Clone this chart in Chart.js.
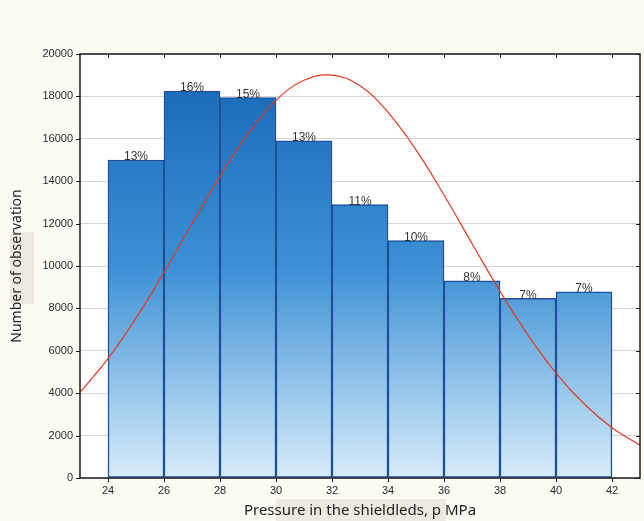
<!DOCTYPE html>
<html>
<head>
<meta charset="utf-8">
<script src="https://cdn.jsdelivr.net/npm/chart.js@4.4.1/dist/chart.umd.min.js"></script>
<style>
  html, body { margin: 0; padding: 0; background: #fcfbf3; }
  #wrap { width: 644px; height: 521px; position: relative; }
</style>
</head>
<body>
<div id="wrap"><canvas id="hist"></canvas></div>
<script>
// histogram bins (centre of each 2 MPa class) and counts
const binCenters = [25, 27, 29, 31, 33, 35, 37, 39, 41];
const binCounts = [15000, 18250, 17950, 15900, 12900, 11200, 9300, 8480, 8780];
const binPercent = ["13%", "16%", "15%", "13%", "11%", "10%", "8%", "7%", "7%"];

// fitted normal curve
const curveX = [23, 24, 25, 26, 27, 28, 29, 30, 31, 32, 33, 34, 35, 36, 37, 38, 39, 40, 41, 42, 43];
const curveY = [4040, 5630, 7540, 9700, 11990, 14230, 16240, 17810, 18760, 19000, 18500, 17250, 15480, 13350, 11060, 8810, 6740, 4950, 3500, 2370, 1550];

const xTicks = [24, 26, 28, 30, 32, 34, 36, 38, 40, 42];
const yTicks = [0, 2000, 4000, 6000, 8000, 10000, 12000, 14000, 16000, 18000, 20000];

const canvas = document.getElementById("hist");

// light blue gradient that runs over the whole plot height
function barFill(context) {
    const area = context.chart.chartArea;
    if (!area) return "#4a94d6";
    const g = context.chart.ctx.createLinearGradient(0, area.top, 0, area.bottom);
    g.addColorStop(0, "#1465b6");
    g.addColorStop(0.5, "#3b90d5");
    g.addColorStop(1, "#d8ecfa");
    return g;
}

const frame = {
    id: "frame",
    beforeDraw(chart) {
        const c = chart.ctx;
        c.save();
        c.fillStyle = "#fcfbf3";
        c.fillRect(0, 0, chart.width, chart.height);
        // faint scan boxes behind the titles
        c.fillStyle = "#eceae0";
        c.fillRect(10, 232, 24, 72);
        c.fillRect(276, 499, 170, 22);
        const a = chart.chartArea;
        c.fillStyle = "#ffffff";
        c.fillRect(a.left, a.top, a.right - a.left, a.bottom - a.top);
        c.restore();
    },
    afterDraw(chart) {
        const c = chart.ctx;
        const a = chart.chartArea;
        const xs = chart.scales.x;
        const ys = chart.scales.y;
        c.save();
        c.strokeStyle = "#1b1b1b";
        c.lineWidth = 1.5;
        c.strokeRect(a.left, a.top, a.right - a.left, a.bottom - a.top);
        c.lineWidth = 1;
        xTicks.forEach(v => {
            const px = Math.round(xs.getPixelForValue(v)) + 0.5;
            c.beginPath();
            c.moveTo(px, a.top); c.lineTo(px, a.top + 4);
            c.moveTo(px, a.bottom); c.lineTo(px, a.bottom + 4);
            c.stroke();
        });
        yTicks.forEach(v => {
            const py = Math.round(ys.getPixelForValue(v)) + 0.5;
            c.beginPath();
            c.moveTo(a.right - 4, py); c.lineTo(a.right, py);
            c.moveTo(a.left - 4, py); c.lineTo(a.left, py);
            c.stroke();
        });
        c.restore();
    },
    afterDatasetsDraw(chart) {
        const c = chart.ctx;
        const meta = chart.getDatasetMeta(1);
        c.save();
        c.fillStyle = "#333333";
        c.font = "12px 'Liberation Sans', Arial, sans-serif";
        c.textAlign = "center";
        c.textBaseline = "bottom";
        meta.data.forEach((bar, i) => {
            c.fillText(binPercent[i], bar.x, bar.y + 3);
        });
        c.restore();
    }
};

new Chart(canvas, {
    data: {
        datasets: [
            {
                type: "line",
                data: curveX.map((x, i) => ({ x: x, y: curveY[i] })),
                borderColor: "#e4391e",
                borderWidth: 1.2,
                pointRadius: 0,
                tension: 0.4,
                fill: false,
                order: 0
            },
            {
                type: "bar",
                data: binCenters.map((x, i) => ({ x: x, y: binCounts[i] })),
                backgroundColor: barFill,
                borderColor: "#1d4f9c",
                borderWidth: 1.5,
                borderSkipped: false,
                barPercentage: 1,
                categoryPercentage: 1,
                order: 1
            }
        ]
    },
    options: {
        responsive: true,
        maintainAspectRatio: false,
        animation: false,
        layout: { padding: { left: 0, right: 4, top: 54, bottom: 0 } },
        plugins: {
            legend: { display: false },
            tooltip: { enabled: false }
        },
        scales: {
            x: {
                type: "linear",
                offset: false,
                min: 23,
                max: 43,
                afterBuildTicks: s => { s.ticks = xTicks.map(v => ({ value: v })); },
                afterFit: s => { s.height = 43; },
                grid: { display: false, drawTicks: false, offset: false },
                border: { display: false },
                ticks: {
                    color: "#2a2a2a",
                    padding: 6,
                    font: { family: "'Liberation Sans', Arial, sans-serif", size: 11 }
                },
                title: {
                    display: true,
                    text: "Pressure in the shieldleds, p MPa",
                    color: "#222222",
                    padding: { top: 0, bottom: 1 },
                    font: { family: "'Noto Sans', sans-serif", size: 15 }
                }
            },
            y: {
                min: 0,
                max: 20000,
                afterBuildTicks: s => { s.ticks = yTicks.map(v => ({ value: v })); },
                afterFit: s => { s.width = 80; },
                grid: { color: "#d6d6d6", lineWidth: 1, drawTicks: false },
                border: { display: false },
                ticks: {
                    color: "#2a2a2a",
                    padding: 7,
                    callback: v => String(v),
                    font: { family: "'Liberation Sans', Arial, sans-serif", size: 11 }
                },
                title: {
                    display: true,
                    text: "Number of observation",
                    color: "#222222",
                    padding: { top: 9, bottom: 4 },
                    font: { family: "'Noto Sans', sans-serif", size: 14 }
                }
            }
        }
    },
    plugins: [frame]
});
</script>
</body>
</html>
